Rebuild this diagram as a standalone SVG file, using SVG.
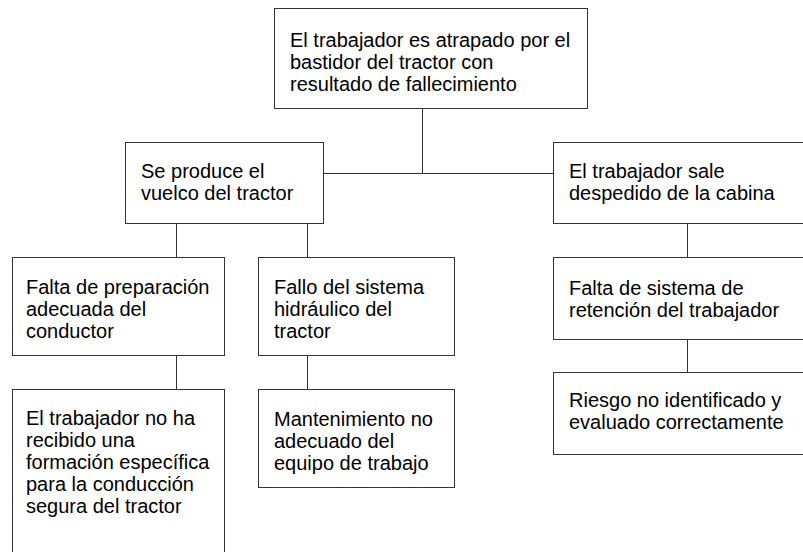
<svg xmlns="http://www.w3.org/2000/svg" width="803" height="552" viewBox="0 0 803 552">
<style>
.box{fill:#fff;stroke:#333;stroke-width:1}
.lbl{font-family:"Liberation Sans",Arial,sans-serif;font-size:20px;fill:#000}
.con{stroke:#333;stroke-width:1;fill:none}
</style>
<rect width="803" height="552" fill="#fff"/>
<g id="connectors">
<path class="con" d="M422.5 108.5V173.5M323.5 173.5H553.5"/>
<path class="con" d="M176.5 223.5V257.5M307.5 223.5V257.5"/>
<path class="con" d="M687.5 223.5V257.5M687.5 339.5V372.5"/>
<path class="con" d="M176.5 355.5V389.5M307.5 355.5V389.5"/>
</g>
<g id="n_top">
<rect class="box" x="274.5" y="8.5" width="313" height="100"/>
<text class="lbl" x="290" y="47">El trabajador es atrapado por el</text>
<text class="lbl" x="290" y="69">bastidor del tractor con</text>
<text class="lbl" x="290" y="91">resultado de fallecimiento</text>
</g>
<g id="n_vuelco">
<rect class="box" x="125.5" y="142.5" width="198" height="81"/>
<text class="lbl" x="141" y="178">Se produce el</text>
<text class="lbl" x="141" y="200">vuelco del tractor</text>
</g>
<g id="n_despedido">
<rect class="box" x="553.5" y="142.5" width="260" height="81"/>
<text class="lbl" x="569" y="178">El trabajador sale</text>
<text class="lbl" x="569" y="200">despedido de la cabina</text>
</g>
<g id="n_preparacion">
<rect class="box" x="12.5" y="257.5" width="212" height="98"/>
<text class="lbl" x="26" y="294">Falta de preparación</text>
<text class="lbl" x="26" y="316">adecuada del</text>
<text class="lbl" x="26" y="338">conductor</text>
</g>
<g id="n_hidraulico">
<rect class="box" x="258.5" y="257.5" width="196" height="98"/>
<text class="lbl" x="274" y="294">Fallo del sistema</text>
<text class="lbl" x="274" y="316">hidráulico del</text>
<text class="lbl" x="274" y="338">tractor</text>
</g>
<g id="n_retencion">
<rect class="box" x="553.5" y="257.5" width="260" height="82"/>
<text class="lbl" x="569" y="295">Falta de sistema de</text>
<text class="lbl" x="569" y="317">retención del trabajador</text>
</g>
<g id="n_formacion">
<rect class="box" x="12.5" y="389.5" width="212" height="180"/>
<text class="lbl" x="26" y="425">El trabajador no ha</text>
<text class="lbl" x="26" y="447">recibido una</text>
<text class="lbl" x="26" y="469">formación específica</text>
<text class="lbl" x="26" y="491">para la conducción</text>
<text class="lbl" x="26" y="513">segura del tractor</text>
</g>
<g id="n_mantenimiento">
<rect class="box" x="258.5" y="389.5" width="196" height="98"/>
<text class="lbl" x="274" y="426">Mantenimiento no</text>
<text class="lbl" x="274" y="448">adecuado del</text>
<text class="lbl" x="274" y="470">equipo de trabajo</text>
</g>
<g id="n_riesgo">
<rect class="box" x="553.5" y="372.5" width="260" height="82"/>
<text class="lbl" x="569" y="407">Riesgo no identificado y</text>
<text class="lbl" x="569" y="429">evaluado correctamente</text>
</g>
</svg>
